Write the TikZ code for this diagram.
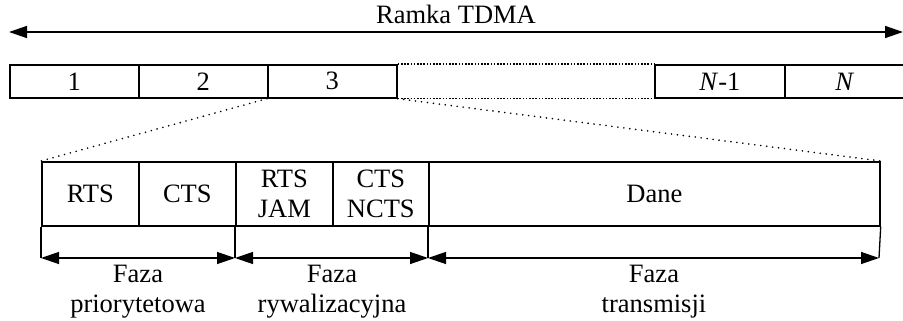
\documentclass[tikz,border=0pt]{standalone}
\usepackage{fontspec}
\setmainfont{Liberation Serif}
\usetikzlibrary{arrows.meta}
\begin{document}
\begin{tikzpicture}[x=1pt,y=-1pt,
  cell/.style={draw,line width=1.7pt,rectangle,inner sep=0pt,anchor=north west,align=center,font=\fontsize{26.5}{30}\selectfont},
  lbl/.style={inner sep=0pt,align=center,font=\fontsize{26.5}{30}\selectfont},
  dtip/.style={{Triangle[length=18pt,width=12pt]}-{Triangle[length=18pt,width=12pt]}},
  dots/.style={line width=1.8pt,line cap=round,dash pattern=on 0pt off 6pt},
  sdots/.style={line width=1.4pt,dash pattern=on 1.6pt off 1.6pt}]
\useasboundingbox (0,0) rectangle (903,321);
% title and frame arrow
\node[lbl] (title) at (456,14) {Ramka TDMA};
\coordinate (fl) at (9,32);
\coordinate (fr) at (903,32);
\draw[dtip,line width=1.5pt] (fl) -- (fr);
% top slots
\node[cell,minimum width=129pt,minimum height=33pt] (s1) at (9,64) {1};
\node[cell,minimum width=129pt,minimum height=33pt] (s2) at (138,64) {2};
\node[cell,minimum width=129pt,minimum height=33pt] (s3) at (267,64) {3};
\node[cell,minimum width=130pt,minimum height=33pt] (sn1) at (654,64) {\textit{N}-1};
\node[cell,minimum width=120pt,minimum height=33pt] (sn) at (784,64) {\textit{N}};
\draw[sdots] (s3.north east) -- (sn1.north west);
\draw[sdots] (s3.south east) -- (sn1.south west);
% detail slots
\node[cell,minimum width=97pt,minimum height=64pt] (rts) at (41,161) {RTS};
\node[cell,minimum width=97pt,minimum height=64pt] (cts) at (138,161) {CTS};
\node[cell,minimum width=97pt,minimum height=64pt] (jam) at (235,161) {RTS\\JAM};
\node[cell,minimum width=96pt,minimum height=64pt] (ncts) at (332,161) {CTS\\NCTS};
\node[cell,minimum width=451pt,minimum height=64pt] (dane) at (428,161) {Dane};
% zoom lines
\draw[dots] (s3.south west) -- (rts.north west);
\draw[dots] (s3.south east) -- (dane.north east);
% phase markers
\coordinate (p0) at (41,258);
\coordinate (p1) at (235,258);
\coordinate (p2) at (428,258);
\coordinate (p3) at (879,258);
\draw[line width=1.3pt] (rts.south west) -- (p0);
\draw[line width=1.3pt] (jam.south west) -- (p1);
\draw[line width=1.3pt] (dane.south west) -- (p2);
\draw[line width=1.3pt] (dane.south east) -- (p3);
\draw[dtip,line width=1.3pt] (p0) -- (p1);
\draw[dtip,line width=1.3pt] (p1) -- (p2);
\draw[dtip,line width=1.3pt] (p2) -- (p3);
\node[lbl] (f1) at (138,292) {Faza\\priorytetowa};
\node[lbl] (f2) at (332,292) {Faza\\rywalizacyjna};
\node[lbl] (f3) at (654,292) {Faza\\transmisji};
\end{tikzpicture}
\end{document}
